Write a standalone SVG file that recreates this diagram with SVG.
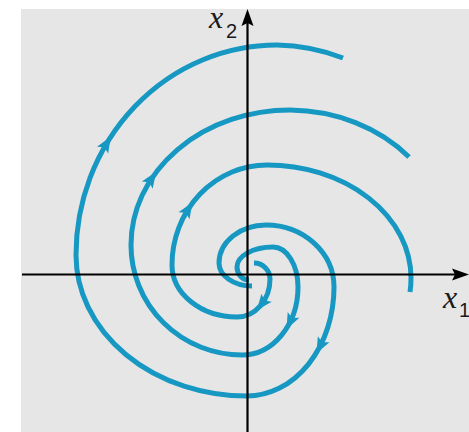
<svg xmlns="http://www.w3.org/2000/svg" xmlns:xlink="http://www.w3.org/1999/xlink" width="469" height="432" viewBox="0 0 469 432">
  <style>
    .traj { fill: none; stroke: #1798c2; stroke-width: 5; stroke-linecap: butt; }
    .axis { stroke: #000; stroke-width: 2.2; fill: none; }
    .axhead { fill: #000; }
    .lbl { font-family: "Liberation Serif", serif; font-style: italic; font-size: 32px; fill: #1a1a1a; }
    .sub { font-family: "Liberation Sans", sans-serif; font-size: 20px; fill: #1a1a1a; }
  </style>
  <defs>
    <path id="ah" d="M8,0 L-8,-6.5 L-4.5,0 L-8,6.5 Z" fill="#1798c2"/>
  </defs>
  <rect x="0" y="0" width="469" height="432" fill="#ffffff"/>
  <rect id="panel" x="21" y="9" width="448" height="423" fill="#e6e6e6"/>

  <g id="trajectories">
    <path id="trajA" class="traj" d="M252,286 A33,23 0 0 1 219,263 A47,38 0 0 1 266,225 A68,62 0 0 1 334,287 A87,109 0 0 1 247,396 A171,141 0 0 1 76,255 A201,210 0 0 1 277,45 A201,210 0 0 1 343,58"/>
    <path id="trajB" class="traj" d="M249,280 A12,13 0 0 1 237,267 A36,20 0 0 1 273,247 A25,40 0 0 1 298,287 A56,68 0 0 1 242,355 A111,110 0 0 1 131,245 A159,135 0 0 1 290,110 A159,135 0 0 1 409,157"/>
    <path id="trajC" class="traj" d="M254,263 A16,16 0 0 1 270,279 A33,38 0 0 1 237,317 A65,52 0 0 1 172,265 A95,100 0 0 1 267,165 A144,113 0 0 1 411,278 A144,113 0 0 1 410,292"/>
    <use xlink:href="#ah" href="#ah" transform="translate(106.7,143.3) rotate(-59)"/>
    <use xlink:href="#ah" href="#ah" transform="translate(320,346.3) rotate(117.3)"/>
    <use xlink:href="#ah" href="#ah" transform="translate(151.7,178.4) rotate(-56.3)"/>
    <use xlink:href="#ah" href="#ah" transform="translate(290,322) rotate(116.3)"/>
    <use xlink:href="#ah" href="#ah" transform="translate(188.3,209) rotate(-57.3)"/>
    <use xlink:href="#ah" href="#ah" transform="translate(261.7,304) rotate(127.6)"/>
  </g>

  <g id="axes">
    <line class="axis" x1="247.5" y1="432" x2="247.5" y2="22"/>
    <polygon class="axhead" points="247.5,9 241.5,26 247.5,23 253.5,26"/>
    <line class="axis" x1="22" y1="274.5" x2="457" y2="274.5"/>
    <polygon class="axhead" points="469,274.5 452,268.5 455,274.5 452,280.5"/>
  </g>

  <g id="labels">
    <text class="lbl" x="209" y="28">x</text>
    <text class="sub" x="226" y="38">2</text>
    <text class="lbl" x="443" y="308">x</text>
    <text class="sub" x="459" y="317">1</text>
  </g>
</svg>
